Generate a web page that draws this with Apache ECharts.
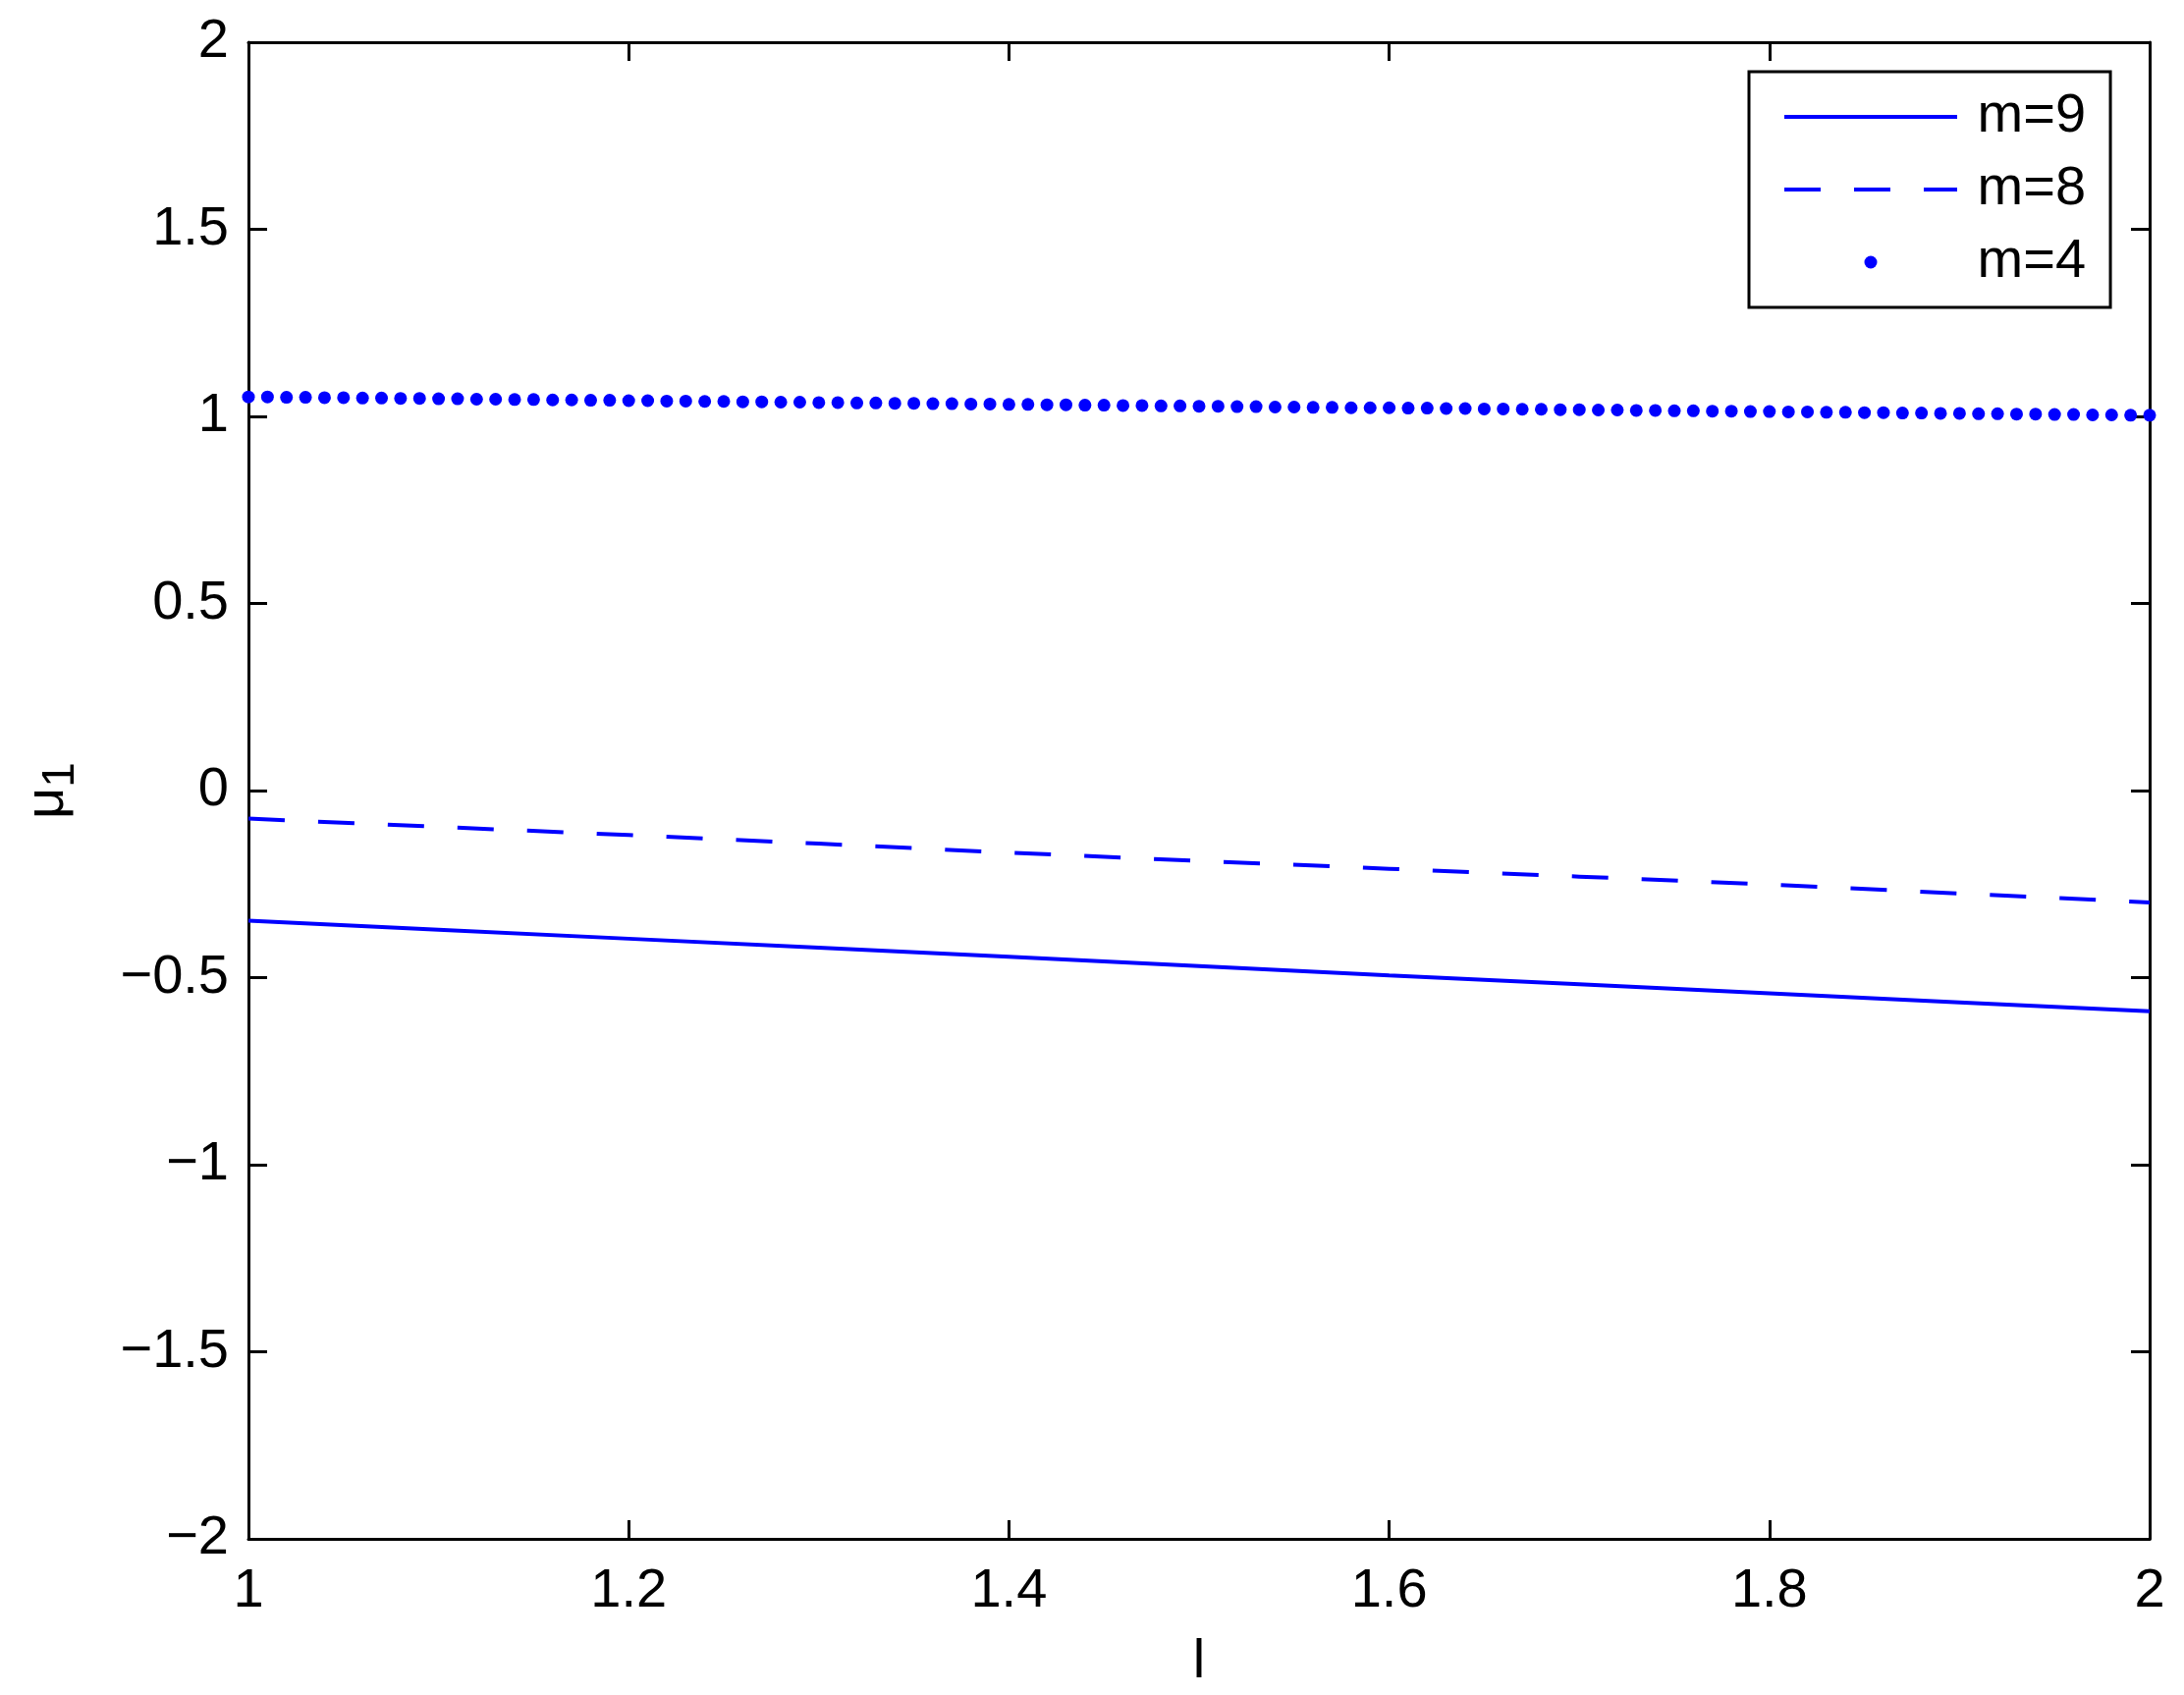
<!DOCTYPE html>
<html>
<head>
<meta charset="utf-8">
<script src="https://cdn.jsdelivr.net/npm/echarts@6/dist/echarts.min.js"></script>
<style>
    html, body { margin: 0; padding: 0; background: #fff; }
    #chart { width: 2224px; height: 1726px; }
</style>
</head>
<body>
<div id="chart"></div>
<script>
// l grid for the dotted m=4 curve (step 0.01)
var lFine = [
    1.00, 1.01, 1.02, 1.03, 1.04, 1.05, 1.06, 1.07, 1.08, 1.09,
    1.10, 1.11, 1.12, 1.13, 1.14, 1.15, 1.16, 1.17, 1.18, 1.19,
    1.20, 1.21, 1.22, 1.23, 1.24, 1.25, 1.26, 1.27, 1.28, 1.29,
    1.30, 1.31, 1.32, 1.33, 1.34, 1.35, 1.36, 1.37, 1.38, 1.39,
    1.40, 1.41, 1.42, 1.43, 1.44, 1.45, 1.46, 1.47, 1.48, 1.49,
    1.50, 1.51, 1.52, 1.53, 1.54, 1.55, 1.56, 1.57, 1.58, 1.59,
    1.60, 1.61, 1.62, 1.63, 1.64, 1.65, 1.66, 1.67, 1.68, 1.69,
    1.70, 1.71, 1.72, 1.73, 1.74, 1.75, 1.76, 1.77, 1.78, 1.79,
    1.80, 1.81, 1.82, 1.83, 1.84, 1.85, 1.86, 1.87, 1.88, 1.89,
    1.90, 1.91, 1.92, 1.93, 1.94, 1.95, 1.96, 1.97, 1.98, 1.99,
    2.00
];
var mu4 = [
    1.052, 1.052, 1.051, 1.051, 1.050, 1.050, 1.049, 1.049, 1.048, 1.048,
    1.047, 1.047, 1.046, 1.046, 1.045, 1.045, 1.044, 1.044, 1.043, 1.043,
    1.042, 1.042, 1.041, 1.041, 1.040, 1.040, 1.039, 1.039, 1.038, 1.038,
    1.037, 1.037, 1.036, 1.036, 1.035, 1.035, 1.034, 1.034, 1.033, 1.033,
    1.032, 1.032, 1.031, 1.031, 1.030, 1.030, 1.029, 1.029, 1.028, 1.028,
    1.027, 1.027, 1.026, 1.026, 1.025, 1.025, 1.024, 1.024, 1.023, 1.023,
    1.023, 1.022, 1.022, 1.021, 1.021, 1.020, 1.020, 1.019, 1.019, 1.018,
    1.018, 1.017, 1.017, 1.016, 1.016, 1.015, 1.015, 1.014, 1.014, 1.013,
    1.013, 1.012, 1.012, 1.011, 1.011, 1.010, 1.010, 1.009, 1.009, 1.008,
    1.008, 1.007, 1.007, 1.006, 1.006, 1.005, 1.005, 1.004, 1.004, 1.003,
    1.003
];

// l grid for the m=9 and m=8 curves
var lCoarse = [1.0, 1.1, 1.2, 1.3, 1.4, 1.5, 1.6, 1.7, 1.8, 1.9, 2.0];
var mu9 = [-0.348, -0.372, -0.396, -0.420, -0.444, -0.469, -0.494, -0.518, -0.542, -0.566, -0.590];
var mu8 = [-0.075, -0.097, -0.119, -0.142, -0.166, -0.188, -0.209, -0.230, -0.251, -0.275, -0.299];

var seriesNames = ['m=9', 'm=8', 'm=4'];

var FONT = '"Liberation Sans", Arial, Helvetica, sans-serif';
var BLUE = '#0000ff';

function pairs(xs, ys) {
    return xs.map(function(x, i) { return [x, ys[i]]; });
}
function minusSign(v) {
    return String(v).replace('-', '\u2212');
}

var frameAxis = {
    onZero: false,
    lineStyle: { color: '#000', width: 3 }
};
var tickStyle = {
    show: true,
    inside: true,
    length: 19,
    lineStyle: { color: '#000', width: 3 }
};

var chart = echarts.init(document.getElementById('chart'));
chart.setOption({
    backgroundColor: '#fff',
    animation: false,
    textStyle: { fontFamily: FONT },
    grid: { left: 253, right: 35, top: 43, bottom: 159 },
    legend: {
        data: [
            // hide the marker ECharts puts in the middle of line icons
            { name: 'm=9', itemStyle: { opacity: 0 } },
            { name: 'm=8', itemStyle: { opacity: 0 } },
            { name: 'm=4', icon: 'circle' }
        ],
        orient: 'vertical',
        left: 1781,
        top: 73,
        padding: [18, 25, 18, 34],
        itemWidth: 176,
        itemHeight: 13,
        itemGap: 18,
        borderColor: '#000',
        borderWidth: 3,
        backgroundColor: '#fff',
        lineStyle: { width: 4 },
        formatter: function(name) { return ' ' + name; },
        textStyle: { fontSize: 56, color: '#000', fontFamily: FONT }
    },
    xAxis: [{
        type: 'value',
        min: 1,
        max: 2,
        interval: 0.2,
        name: 'l',
        nameLocation: 'middle',
        nameGap: 98,
        nameTextStyle: { fontSize: 56, color: '#000', fontFamily: FONT },
        axisLine: frameAxis,
        axisTick: tickStyle,
        axisLabel: { fontSize: 56, color: '#000', margin: 26, fontFamily: FONT },
        splitLine: { show: false }
    }, {
        type: 'value',
        position: 'top',
        min: 1,
        max: 2,
        interval: 0.2,
        axisLine: frameAxis,
        axisTick: tickStyle,
        axisLabel: { show: false },
        splitLine: { show: false }
    }],
    yAxis: [{
        type: 'value',
        min: -2,
        max: 2,
        interval: 0.5,
        name: '{a|\u03bc}{b|1}',
        nameLocation: 'middle',
        nameGap: 168,
        nameRotate: 90,
        nameTextStyle: {
            color: '#000',
            fontFamily: FONT,
            rich: {
                a: { fontSize: 56, color: '#000', fontFamily: FONT },
                b: { fontSize: 46, color: '#000', fontFamily: FONT, padding: [26, 0, 0, 0] }
            }
        },
        axisLine: frameAxis,
        axisTick: tickStyle,
        axisLabel: {
            fontSize: 56,
            color: '#000',
            margin: 20,
            fontFamily: FONT,
            formatter: minusSign
        },
        splitLine: { show: false }
    }, {
        type: 'value',
        position: 'right',
        min: -2,
        max: 2,
        interval: 0.5,
        axisLine: frameAxis,
        axisTick: tickStyle,
        axisLabel: { show: false },
        splitLine: { show: false }
    }],
    series: [{
        name: seriesNames[0],
        type: 'line',
        data: pairs(lCoarse, mu9),
        showSymbol: false,
        symbol: 'none',
        color: BLUE,
        lineStyle: { color: BLUE, width: 4, type: 'solid' }
    }, {
        name: seriesNames[1],
        type: 'line',
        data: pairs(lCoarse, mu8),
        showSymbol: false,
        symbol: 'none',
        color: BLUE,
        lineStyle: { color: BLUE, width: 4, type: [37, 34] }
    }, {
        name: seriesNames[2],
        type: 'scatter',
        data: pairs(lFine, mu4),
        symbol: 'circle',
        symbolSize: 13,
        color: BLUE,
        itemStyle: { color: BLUE, opacity: 1 }
    }]
});
</script>
</body>
</html>
